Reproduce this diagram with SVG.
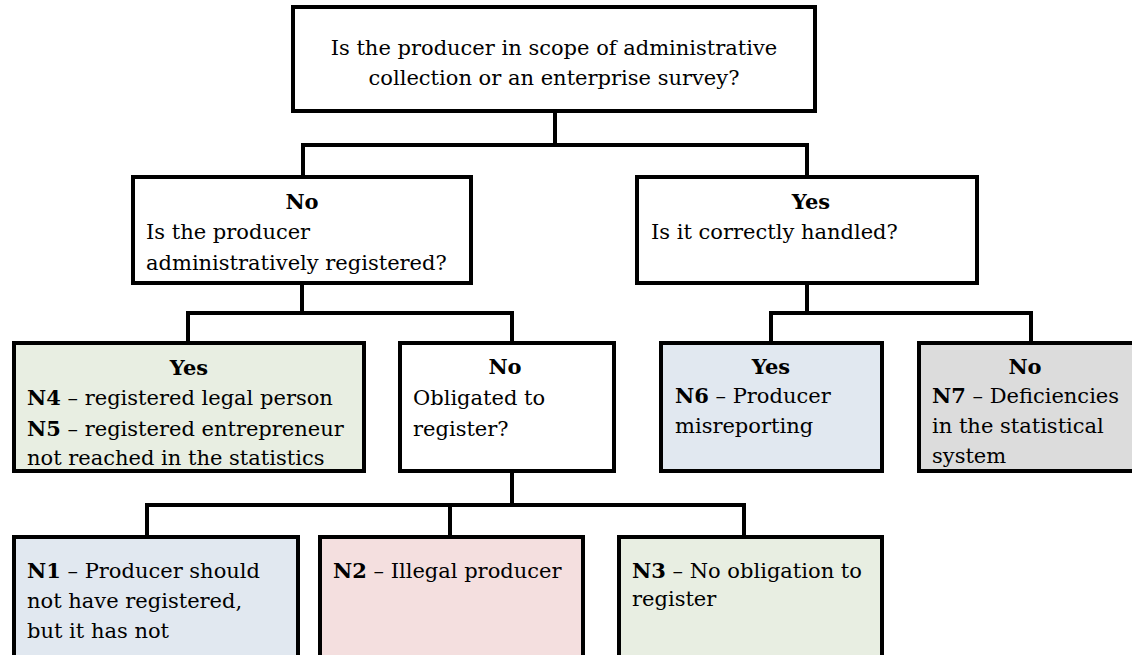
<svg xmlns="http://www.w3.org/2000/svg" width="1132" height="655" viewBox="0 0 1132 655">
<style>
.box{stroke:#000;stroke-width:4;fill:#fff}
.g{fill:#e8eee2}.b{fill:#e1e8f0}.p{fill:#f4dfdf}.gr{fill:#dcdcdc}
.c{fill:none;stroke:#000;stroke-width:4;stroke-linejoin:miter}
text{font-family:"DejaVu Serif","Liberation Serif",serif;font-size:21px;fill:#000}
.m{text-anchor:middle}
.bd{font-weight:bold}
</style>
<rect width="1132" height="655" fill="#fff"/>
<g id="connectors">
<path class="c" d="M555 111V145M303 177V145H807V177"/>
<path class="c" d="M302 283V313M188 343V313H512V343"/>
<path class="c" d="M807 283V313M771 343V313H1031V343"/>
<path class="c" d="M512 471V505M147 537V505H744V537M450 505V537"/>
</g>
<g id="q-top">
<rect class="box" x="293" y="7" width="522" height="104"/>
<text class="m" x="554" y="55">Is the producer in scope of administrative</text>
<text class="m" x="554" y="85">collection or an enterprise survey?</text>
</g>
<g id="q-no">
<rect class="box" x="133" y="177" width="338" height="106"/>
<text class="m bd" x="302" y="209">No</text>
<text x="146" y="239">Is the producer</text>
<text x="146" y="270">administratively registered?</text>
</g>
<g id="q-yes">
<rect class="box" x="637" y="177" width="340" height="106"/>
<text class="m bd" x="811" y="209">Yes</text>
<text x="651" y="239">Is it correctly handled?</text>
</g>
<g id="n4n5">
<rect class="box g" x="14" y="343" width="350" height="128"/>
<text class="m bd" x="189" y="375">Yes</text>
<text x="27" y="405"><tspan class="bd">N4</tspan> – registered legal person</text>
<text x="27" y="436"><tspan class="bd">N5</tspan> – registered entrepreneur</text>
<text x="27" y="465">not reached in the statistics</text>
</g>
<g id="q-oblig">
<rect class="box" x="400" y="343" width="214" height="128"/>
<text class="m bd" x="505" y="374">No</text>
<text x="413" y="405">Obligated to</text>
<text x="413" y="436">register?</text>
</g>
<g id="n6">
<rect class="box b" x="661" y="343" width="221" height="128"/>
<text class="m bd" x="771" y="374">Yes</text>
<text x="675" y="403"><tspan class="bd">N6</tspan> – Producer</text>
<text x="675" y="433">misreporting</text>
</g>
<g id="n7">
<rect class="box gr" x="919" y="343" width="220" height="128"/>
<text class="m bd" x="1025" y="374">No</text>
<text x="932" y="403"><tspan class="bd">N7</tspan> – Deficiencies</text>
<text x="932" y="433">in the statistical</text>
<text x="932" y="463">system</text>
</g>
<g id="n1">
<rect class="box b" x="14" y="537" width="284" height="130"/>
<text x="27" y="578"><tspan class="bd">N1</tspan> – Producer should</text>
<text x="27" y="608">not have registered,</text>
<text x="27" y="638">but it has not</text>
</g>
<g id="n2">
<rect class="box p" x="320" y="537" width="263" height="130"/>
<text x="333" y="578"><tspan class="bd">N2</tspan> – Illegal producer</text>
</g>
<g id="n3">
<rect class="box g" x="619" y="537" width="263" height="130"/>
<text x="632" y="578"><tspan class="bd">N3</tspan> – No obligation to</text>
<text x="632" y="606">register</text>
</g>
</svg>
